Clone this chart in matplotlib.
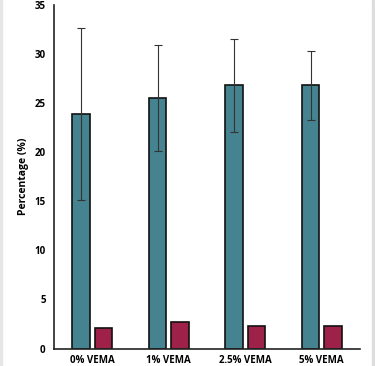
import matplotlib
matplotlib.use("Agg")
import matplotlib.pyplot as plt
from matplotlib.patches import Rectangle
import numpy as np

categories = ["0% VEMA", "1% VEMA", "2.5% VEMA", "5% VEMA"]
teal_values = [23.9, 25.5, 26.8, 26.8]
teal_errors = [8.8, 5.4, 4.75, 3.55]
red_values = [2.1, 2.7, 2.3, 2.3]
yticks = [0, 5, 10, 15, 20, 25, 30, 35]

plt.rcParams['font.family'] = ['Open Sans', 'DejaVu Sans']

fig = plt.figure(figsize=(3.75, 3.66), dpi=100)
ax = fig.add_axes([0.144, 0.0478, 0.816, 0.9385])

x = np.arange(len(categories))
w = 0.229
off = 0.144
ax.bar(x - off, teal_values, width=w, color="#44838F", edgecolor="#111111", linewidth=1.2,
       yerr=teal_errors, error_kw=dict(ecolor="#333333", elinewidth=0.8, capsize=3, capthick=0.8),
       zorder=2)
ax.bar(x + off, red_values, width=w, color="#9E2149", edgecolor="#111111", linewidth=1.2, zorder=2)

ax.set_xlim(-0.5, 3.5)
ax.set_ylim(0, 35)
ax.set_yticks(yticks)
ax.set_yticklabels([str(t) for t in yticks], fontsize=7, fontweight="bold")
ax.set_xticks(x)
ax.set_xticklabels(categories, fontsize=7, fontweight="bold")
ax.tick_params(axis="both", length=0, pad=6)
ax.tick_params(axis="x", pad=5)
ax.set_ylabel("Percentage (%)", fontsize=7.5, fontweight="bold", labelpad=4)
ax.spines["top"].set_visible(False)
ax.spines["right"].set_visible(False)
for s in ("left", "bottom"):
    ax.spines[s].set_linewidth(1.2)
    ax.spines[s].set_color("#222222")

fig.patches.append(Rectangle((0, 0), 0.004, 1, transform=fig.transFigure, color="#e6e6e6", zorder=0))
fig.patches.append(Rectangle((0.992, 0), 0.008, 1, transform=fig.transFigure, color="#dddddd", zorder=0))

fig.savefig("out.png", dpi=100)
